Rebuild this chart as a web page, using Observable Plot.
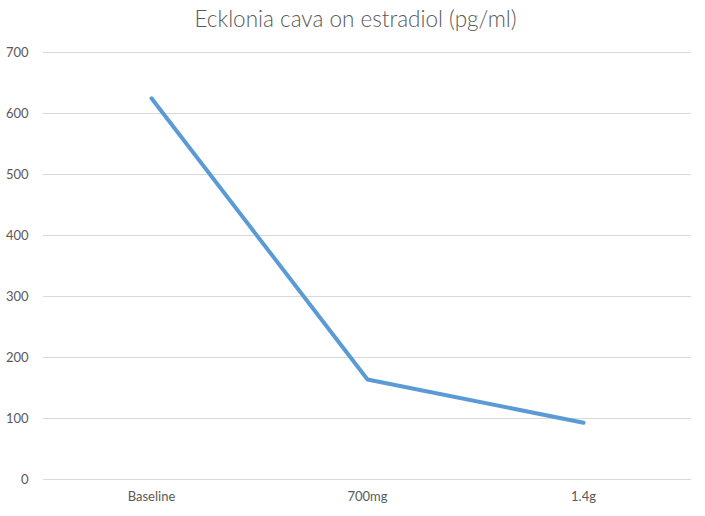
<!DOCTYPE html>
<html>
<head>
<meta charset="utf-8">
<script src="https://cdn.jsdelivr.net/npm/d3@7"></script>
<script src="https://cdn.jsdelivr.net/npm/@observablehq/plot@0.6"></script>
<style>
  body { margin: 0; background: #fff; font-family: Lato, "Open Sans", sans-serif; }
  #title { height: 36px; line-height: 37px; text-align: center; font-size: 22.5px; font-weight: 300; color: #595959; width: 705px; padding-left: 6px; box-sizing: border-box; }
</style>
</head>
<body>
<div id="title">Ecklonia cava on estradiol (pg/ml)</div>
<div id="chart"></div>
<script>
const categories = ["Baseline", "700mg", "1.4g"];
const estradiol = [625, 164, 93];
const yTicks = [0, 100, 200, 300, 400, 500, 600, 700];

const data = categories.map((c, i) => ({dose: c, value: estradiol[i]}));

const chart = Plot.plot({
  width: 705,
  height: 480,
  marginTop: 16,
  marginBottom: 37,
  marginLeft: 43,
  marginRight: 14,
  style: { fontFamily: "Lato, 'Open Sans', sans-serif", fontSize: "13px", color: "#595959", background: "#fff" },
  x: { type: "point", domain: categories, padding: 0.5, label: null, tickSize: 0, tickPadding: 12 },
  y: { domain: [0, 700], ticks: yTicks, label: null, tickSize: 0, tickPadding: 15 },
  marks: [
    Plot.gridY(yTicks, { stroke: "#d9d9d9", strokeOpacity: 1, strokeWidth: 1 }),
    Plot.axisX({ tickSize: 0, tickPadding: 12, fill: "#595959", fontSize: 13 }),
    Plot.axisY(yTicks, { tickSize: 0, tickPadding: 15, fill: "#595959", fontSize: 13 }),
    Plot.line(data, { x: "dose", y: "value", stroke: "#5B9BD5", strokeWidth: 4, strokeLinecap: "round", strokeLinejoin: "round" })
  ]
});
document.getElementById("chart").appendChild(chart);
</script>
</body>
</html>
